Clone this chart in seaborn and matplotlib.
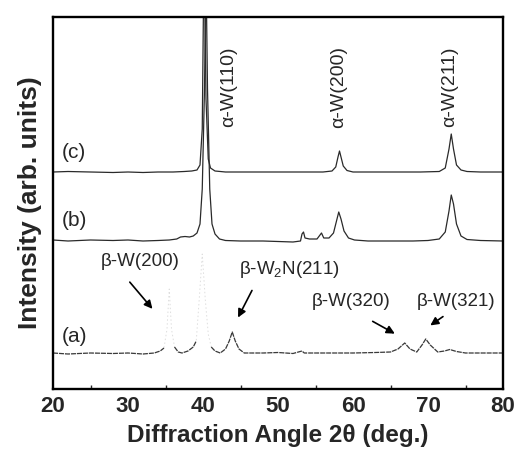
import numpy as np
import pandas as pd
import matplotlib
matplotlib.use("Agg")
import matplotlib.pyplot as plt
import seaborn as sns

# ---- data (2theta in deg, intensity in arbitrary offset units) ----
c_x = [20, 22, 25, 28, 30, 32, 34, 36, 37.5, 38.5, 39.2, 39.6, 39.9, 40.15, 40.4, 40.7, 41.0, 41.6,
       43, 46, 50, 53, 56, 57.2, 57.7, 58.0, 58.2, 58.4, 58.7, 59.2, 60, 63, 66, 69, 71.5, 72.3,
       72.8, 73.1, 73.4, 73.8, 74.4, 75.2, 77, 80]
c_y = [217, 217.5, 217, 216.5, 217, 216.5, 217, 217, 217.5, 218, 219, 224, 260, 450, 290, 230, 221, 218,
       217, 217, 217, 217, 217, 218, 222, 232, 238, 232, 223, 218.5, 217, 217, 217, 217, 217.5, 221,
       240, 255, 240, 224, 219, 217.5, 217, 217]

b_x = [20, 22, 25, 28, 30, 32, 34, 35.5, 36.5, 37.0, 37.6, 38.2, 38.7, 39.2, 39.6, 39.9, 40.2, 40.4,
       40.6, 40.9, 41.2, 41.6, 42.2, 43, 45, 48, 50, 52, 53.0, 53.2, 53.4, 53.6, 54.2, 55.2, 55.6,
       55.8, 56.1, 56.8, 57.4, 57.8, 58.1, 58.4, 58.8, 59.4, 60.2, 62, 65, 68, 70, 71.5, 72.3, 72.8,
       73.1, 73.4, 73.8, 74.4, 75.2, 77, 80]
b_y = [149, 148, 149, 148.5, 149, 148, 148.5, 149, 150, 152, 152.5, 152, 153, 156, 165, 200, 300, 420,
       300, 200, 165, 155, 150, 148.5, 148, 148, 147.5, 147, 148, 155, 157, 151, 150, 150, 154,
       156, 151, 151, 156, 168, 177, 170, 158, 151, 149, 148, 148, 148, 148.5, 150, 157, 178,
       194, 185, 165, 153, 149.5, 148.5, 148]

a_x = [20, 22, 25, 28, 30, 32, 33.5, 34.3, 34.8, 35.2, 35.5, 35.8, 36.2, 36.7, 37.2, 38, 38.7, 39.1,
       39.5, 39.9, 40.3, 40.7, 41.1, 41.6, 42.3, 43.0, 43.5, 43.9, 44.3, 44.8, 45.5, 48, 50, 52,
       53.2, 53.5, 56, 60, 63, 65, 66, 66.9, 67.6, 68.5, 69.2, 69.7, 70.3, 71.3, 72.2, 72.9, 73.8,
       75, 78, 80]
a_y = [36, 35, 36, 35.5, 36, 35, 36, 38, 41, 60, 100, 60, 42, 37, 36, 38, 42, 48,
       90, 135, 90, 55, 42, 38, 36, 40, 48, 57, 48, 40, 36, 36, 36.5, 35.5,
       38, 36, 36, 36, 36.5, 37, 40, 46, 40, 37, 44, 50, 44, 37, 38, 39.5, 37.5,
       36, 36, 36]
a_faint_ranges = [(34.8, 36.2), (39.1, 41.1)]

curve_labels = ["(c)", "(b)", "(a)"]
alpha_labels = ["α-W(110)", "α-W(200)", "α-W(211)"]
alpha_pos = [43.4, 58.1, 72.9]
beta_labels = ["β-W(200)", "β-W$_2$N(211)", "β-W(320)", "β-W(321)"]
beta_text = [(31.6, 128), (51.5, 119), (59.8, 87), (73.7, 87)]
beta_tail = [(30.0, 109), (46.7, 101), (62.3, 69), (72.3, 74)]
beta_head = [(33.5, 78), (44.5, 69), (65.9, 54), (70.0, 62)]

xticks = [20, 30, 40, 50, 60, 70, 80]

# ---- plotting ----
sns.set_style("white")
plt.rcParams["font.family"] = ["Liberation Sans", "DejaVu Sans"]
plt.rcParams["mathtext.fontset"] = "custom"
plt.rcParams["mathtext.rm"] = "Liberation Sans"
plt.rcParams["mathtext.it"] = "Liberation Sans:italic"

fig = plt.figure(figsize=(5.17, 4.5), dpi=100)
ax = fig.add_axes([53 / 517, 1 - 389 / 450, 450 / 517, 372 / 450])

line_col = "#2a2a2a"
dc = pd.DataFrame({"x": c_x, "y": c_y})
db = pd.DataFrame({"x": b_x, "y": b_y})
sns.lineplot(data=dc, x="x", y="y", ax=ax, color=line_col, lw=0.9, estimator=None, sort=False)
sns.lineplot(data=db, x="x", y="y", ax=ax, color=line_col, lw=0.9, estimator=None, sort=False)

da = pd.DataFrame({"x": a_x, "y": a_y})
# faint (washed-out) whole curve
sns.lineplot(data=da, x="x", y="y", ax=ax, color="#dedede", lw=0.7, estimator=None, sort=False,
             linestyle=(0, (1.5, 2.5)))
# solid segments outside washed-out regions
seg = np.zeros(len(a_x), dtype=int)
keep = np.ones(len(a_x), dtype=bool)
s = 0
prev_in = False
for i, xv in enumerate(a_x):
    inside = any(lo < xv < hi for lo, hi in a_faint_ranges)
    if inside:
        keep[i] = False
        prev_in = True
    else:
        if prev_in:
            s += 1
        prev_in = False
    seg[i] = s
da["seg"] = seg
sns.lineplot(data=da[keep], x="x", y="y", units="seg", ax=ax, color="#3a3a3a", lw=0.9,
             estimator=None, sort=False, linestyle=(0, (4, 0.8)))

ax.set_xlim(20, 80)
ax.set_ylim(0, 372)
ax.set_yticks([])
ax.set_xticks(xticks)
ax.set_xticklabels([str(t) for t in xticks], fontsize=16, fontweight="bold")
ax.set_xticks([25, 35, 45, 55, 65, 75], minor=True)
ax.tick_params(axis="x", which="major", direction="in", length=5, width=1.3, pad=5, color="black")
ax.tick_params(axis="x", which="minor", direction="in", length=3, width=1.0, bottom=True)
for sp in ax.spines.values():
    sp.set_color("black")
    sp.set_linewidth(1.7)

ax.set_xlabel("Diffraction Angle 2θ (deg.)", fontsize=17.5, fontweight="bold", labelpad=5)
ax.set_ylabel("Intensity (arb. units)", fontsize=19, fontweight="bold", labelpad=8)

for lab, ypos in zip(curve_labels, [237, 168, 52]):
    ax.text(21.2, ypos, lab, fontsize=15, ha="left", va="center")

for lab, xp in zip(alpha_labels, alpha_pos):
    ax.text(xp, 302, lab, rotation=90, fontsize=14, ha="center", va="center")

for lab, tp, tl, hd in zip(beta_labels, beta_text, beta_tail, beta_head):
    ax.text(tp[0], tp[1], lab, fontsize=13.5, ha="center", va="center")
    ax.annotate("", xy=hd, xytext=tl,
                arrowprops=dict(arrowstyle="-|>", color="black", lw=1.2, mutation_scale=12))

fig.savefig("out.png", dpi=100)
